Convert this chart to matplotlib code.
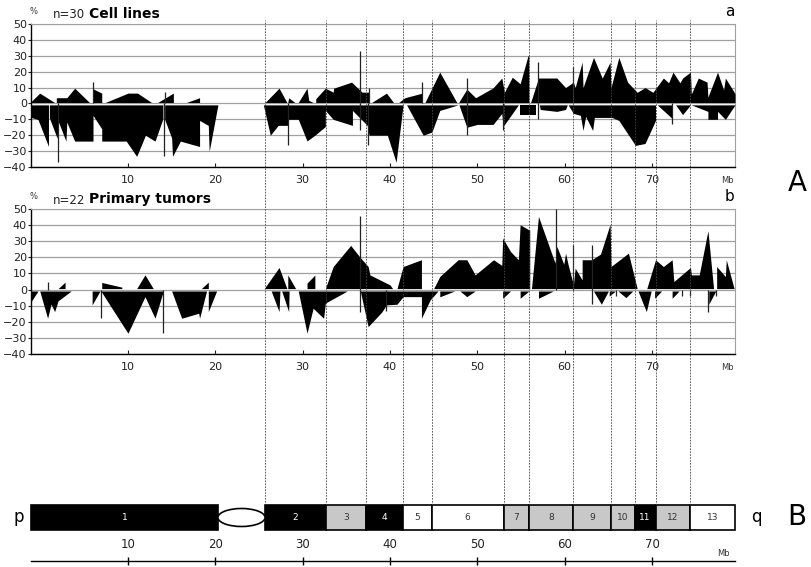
import numpy as np
import matplotlib
matplotlib.use("Agg")
import matplotlib.pyplot as plt
from matplotlib.patches import Rectangle, Ellipse

# ---- data (Mb position, % of cases) ----
cell_gain = [
    [(-1.2, 0), (-0.1, 6.5), (1.6, 0)],
    [(1.8, 3.6), (3.0, 3.6), (3.9, 9.6), (5.6, 0)],
    [(6.0, 9.2), (7.0, 6.5)],
    [(7.4, 0), (10.0, 6.5), (11.1, 6.5), (12.7, 0)],
    [(13.4, 0), (15.2, 6.5)],
    [(16.7, 0), (18.2, 3.6)],
    [(25.7, 0), (27.3, 9.6), (28.2, 0)],
    [(28.3, 0), (28.4, 3.6), (29.1, 0)],
    [(29.5, 0), (30.5, 9.6), (30.7, 1.9), (31.2, 0)],
    [(31.5, 3.0), (32.6, 9.6), (33.5, 7.1), (33.55, 9.6), (35.6, 13.4), (36.8, 7.1), (37.65, 7.1)],
    [(37.9, 0), (39.6, 6.5), (40.4, 0)],
    [(41.0, 0), (41.7, 3.6), (43.7, 6.5)],
    [(44.0, 0), (45.7, 19.7), (47.65, 0)],
    [(47.9, 1), (48.8, 9), (49.8, 3.6), (51.8, 9.8), (52.8, 16), (53.1, 7), (54.0, 16.5),
     (54.9, 12.4), (55.8, 30), (55.9, 30)],
    [(56.1, 0), (57.0, 16), (59.1, 16), (60.1, 10), (61.0, 13.4), (61.2, 10), (62.0, 26), (62.1, 10),
     (63.3, 29), (64.3, 16), (65.2, 26), (65.3, 10), (66.2, 29), (67.2, 13.4), (68.3, 7), (69.2, 10),
     (70.1, 7), (71.3, 16), (71.9, 13), (72.4, 19.7), (73.2, 13), (73.5, 16), (74.4, 19.7), (74.5, 6),
     (75.3, 16), (76.3, 13.4), (76.4, 4), (77.5, 19.7), (78.2, 8.6), (78.4, 16), (79.3, 8), (79.5, 6)],
]
cell_loss = [
    [(-1.2, -8.6), (-0.3, -10.1), (0.9, -27)],
    [(1.0, -9), (1.9, -22), (2.0, -11), (2.9, -23.7), (3.0, -11.7), (3.9, -23.7), (6.0, -23.7),
     (6.0, -7.5), (7.0, -16), (7.0, -23.7), (9.8, -23.7), (11.0, -33.3), (12.0, -20), (13.1, -23.7),
     (14.0, -9.6)],
    [(14.2, -10), (15.0, -21.6), (15.1, -33.3), (16.0, -23.7), (18.2, -27.1), (18.2, -10.7),
     (19.2, -13.8), (19.3, -30.2), (20.3, 0)],
    [(25.5, 0), (26.3, -20), (27.2, -13.8), (28.3, -13.8), (28.4, -10), (29.5, -10), (30.5, -23.6),
     (31.4, -20), (32.6, -14.5), (32.6, -4.4), (33.5, -10), (35.7, -13.8), (35.7, -4.4), (37.4, -13.8),
     (37.6, -20), (39.7, -20), (40.7, -37), (41.5, 0)],
    [(41.9, 0), (43.8, -20), (44.8, -18), (45.7, -4.4), (47.8, 0)],
    [(47.9, 0), (48.8, -15), (50.0, -13.2), (51.8, -13.2), (52.8, -6.3), (52.95, -14.5), (54.7, 0)],
    [(54.9, -7), (56.7, -7)],
    [(57.1, 0), (57.2, -3.8), (59.1, -5), (60.1, -3.8), (60.3, 0)],
    [(60.4, 0), (61.0, -6.3), (61.8, -7.5), (62.1, -17), (62.4, -8.2), (63.2, -17), (63.4, -8.8),
     (65.4, -8.8), (66.2, -10.7), (68.1, -26.4), (69.2, -25.2), (70.4, -10.7)],
    [(70.6, 0), (72.3, -9.4)],
    [(72.7, 0), (73.5, -7), (74.4, 0)],
    [(74.5, 0), (76.4, -5), (76.4, -10), (77.5, -10), (77.5, -5), (78.4, -10), (79.5, 0)],
]
cell_spikes = [(6.0, 13.4), (14.2, 7.5), (36.6, 33.3), (37.65, 9.6), (43.7, 13.4), (48.8, 16),
               (57.0, 26), (61.0, 22.8), (1.95, -37), (14.1, -33.3), (28.3, -26.4), (36.6, -17),
               (37.5, -26.4), (48.8, -20), (52.95, -17), (57.0, -9.6), (72.3, -13)]

tumor_gain = [
    [(2.0, 0), (2.8, 4.6)],
    [(7.0, 4.4), (9.3, 1.5)],
    [(11.0, 0), (11.95, 9.1), (12.9, 0)],
    [(18.4, 0), (19.2, 4.6)],
    [(25.6, 0), (27.3, 13.7), (28.2, 0)],
    [(28.3, 9.1), (29.2, 0)],
    [(30.5, 4), (31.4, 9)],
    [(32.6, 0), (33.5, 14.3), (35.5, 27.4), (36.5, 20.5), (37.5, 14.3), (37.7, 9.1), (40.0, 2.9), (40.3, 0)],
    [(40.8, 0), (41.5, 14.3), (43.6, 18.5)],
    [(45.0, 0), (45.7, 8.1), (47.8, 18.5), (48.8, 18.5), (49.75, 9.1), (51.85, 18.5), (52.8, 15),
     (52.9, 32), (53.8, 23.6), (54.7, 18.5), (54.9, 40.2), (55.9, 37.1), (56.0, 37.1)],
    [(56.2, 0), (57.0, 45.4), (58.9, 16.4), (59.1, 26.8), (59.9, 15.7), (60.1, 22.6), (60.4, 15.3),
     (61.0, 2.9), (61.2, 13.3), (62.0, 6.0), (62.0, 18.5), (63.1, 18.5), (64.1, 22.0), (65.2, 40.6),
     (65.3, 14.3), (67.3, 22.6), (68.3, 0)],
    [(69.4, 0), (70.4, 18.5), (71.3, 14.3), (72.3, 18.5), (72.5, 5), (74.4, 13.7), (74.5, 9.1),
     (75.4, 9.1), (76.4, 36.5), (77.05, 0)],
    [(77.4, 14.3), (78.4, 8.1), (78.5, 18.5), (79.4, 0)],
]
tumor_loss = [
    [(-1.2, -8.4), (-0.3, 0)],
    [(-0.1, 0), (0.8, -17.8), (1.2, -9), (1.6, -13.7), (2.0, -7), (3.5, 0)],
    [(5.9, -9.5), (6.8, 0)],
    [(6.9, 0), (10.0, -27.1), (11.95, -4.4), (13.1, -17.8), (14.05, 0)],
    [(15.0, 0), (16.15, -17.8), (18.1, -14.7), (18.2, -17.8), (19.0, 0)],
    [(19.2, -13.7), (20.15, 0)],
    [(26.4, 0), (27.3, -13.7), (27.4, 0)],
    [(27.6, 0), (28.4, -13.7), (28.45, 0)],
    [(29.5, 0), (30.5, -27.1), (31.2, -11.6), (32.4, -17.8), (32.6, -8.4), (35.1, 0)],
    [(36.6, 0), (37.5, -23), (39.05, -14), (39.6, -9.5), (40.8, -9.1), (41.5, -4.4), (43.6, -4.4),
     (43.6, -17.8), (44.6, -6.4), (45.5, 0)],
    [(45.7, -4.5), (47.4, 0)],
    [(48.0, 0), (48.8, -4.4), (49.75, 0)],
    [(52.9, -5.4), (53.8, 0)],
    [(54.9, -5.4), (55.9, 0)],
    [(57.0, -5.4), (58.7, 0)],
    [(63.3, 0), (64.2, -9.1), (65.0, 0)],
    [(65.1, -4), (65.8, 0)],
    [(66.1, 0), (67.0, -5), (67.8, 0)],
    [(68.4, 0), (69.35, -13.7), (69.9, 0)],
    [(70.3, -5.4), (71.1, 0)],
    [(72.3, -5.4), (73.1, 0)],
    [(76.5, -9), (77.3, 0)],
]
tumor_spikes = [(0.8, 4.6), (36.6, 45.4), (59.0, 50.2), (61.0, 27.8), (63.1, 27.8),
                (6.9, -17.8), (14.05, -27), (36.6, -14), (39.6, -13), (63.1, -9.1),
                (65.9, -4), (73.4, -4), (74.4, -4), (76.4, -13.7), (77.35, -4)]

band_names = [str(i) for i in range(1, 14)]
band_start = [-1.1, 25.7, 32.7, 37.3, 41.5, 44.8, 53.0, 55.9, 61.0, 65.3, 68.0, 70.4, 74.3]
band_end = [20.3, 32.7, 37.3, 41.5, 44.8, 53.0, 55.9, 61.0, 65.3, 68.0, 70.4, 74.3, 79.5]
band_stain = ['black', 'black', 'gray', 'black', 'white', 'white', 'gray', 'gray', 'gray',
              'gray', 'black', 'gray', 'white']
centromere = (20.3, 25.7)
mb_ticks = [10, 20, 30, 40, 50, 60, 70]

XMIN, XMAX = -1.1, 79.5
W, H = 811, 567


def fx(px):
    return px / W


def fy(py):
    return 1 - py / H


def profile(ax, gains, losses, spikes):
    for seg in gains:
        x, y = zip(*seg)
        ax.fill_between(x, 0.6, np.maximum(y, 0.6), color='black', lw=0, zorder=3)
    for seg in losses:
        x, y = zip(*seg)
        ax.fill_between(x, -0.9, np.minimum(y, -0.9), color='black', lw=0, zorder=3)
    for x, v in spikes:
        ax.vlines(x, 0, v, color='#222222', lw=0.9, zorder=3)
    ax.set_xlim(XMIN, XMAX)
    ax.set_ylim(-40, 50)
    ax.set_yticks(range(-40, 51, 10))
    ax.set_xticks(mb_ticks)
    ax.grid(axis='y', color='#a0a0a0', lw=0.9)
    ax.set_axisbelow(True)
    for s in ['top', 'right']:
        ax.spines[s].set_color('#a0a0a0')
    for s in ['left', 'bottom']:
        ax.spines[s].set_color('black')
        ax.spines[s].set_linewidth(1.0)
    ax.tick_params(axis='y', direction='out', length=2, labelsize=8, colors='#222222', pad=1)
    ax.tick_params(axis='x', direction='in', length=3, labelsize=8, colors='#222222', pad=6)


fig = plt.figure(figsize=(W / 100, H / 100), dpi=100)

ax1 = fig.add_axes([fx(31), fy(167), fx(704), 143 / H])
profile(ax1, cell_gain, cell_loss, cell_spikes)
ax2 = fig.add_axes([fx(31), fy(354), fx(704), 145 / H])
profile(ax2, tumor_gain, tumor_loss, tumor_spikes)

for top, n, title, letter in [(14, 'n=30', 'Cell lines', 'a'), (199, 'n=22', 'Primary tumors', 'b')]:
    fig.text(fx(29), fy(top - 2), '%', fontsize=6, ha='left', va='center', color='#333333')
    fig.text(fx(53), fy(top + 1), n, fontsize=8.5, ha='left', va='center', color='#222222')
    fig.text(fx(89), fy(top), title, fontsize=10, fontweight='bold', ha='left', va='center')
    fig.text(fx(734), fy(top - 2), letter, fontsize=11, ha='right', va='center')
fig.text(fx(721), fy(181), 'Mb', fontsize=6, ha='left', va='center', color='#333333')
fig.text(fx(721), fy(367), 'Mb', fontsize=6, ha='left', va='center', color='#333333')
fig.text(fx(797), fy(183), 'A', fontsize=20, ha='center', va='center')
fig.text(fx(797), fy(517), 'B', fontsize=20, ha='center', va='center')
fig.text(fx(19), fy(517), 'p', fontsize=12, ha='center', va='center')
fig.text(fx(756), fy(517), 'q', fontsize=12, ha='center', va='center')

# ideogram and ruler (y in pixels below 500)
ax3 = fig.add_axes([fx(31), 0, fx(704), 67 / H])
ax3.set_xlim(XMIN, XMAX)
ax3.set_ylim(67, 0)
ax3.axis('off')
fills = {'black': 'black', 'gray': '#c8c8c8', 'white': 'white'}
for name, s, e, st in zip(band_names, band_start, band_end, band_stain):
    ax3.add_patch(Rectangle((s, 5), e - s, 25, facecolor=fills[st], edgecolor='black', lw=1.2,
                            clip_on=False))
    ax3.text((s + e) / 2, 17.5, name, fontsize=6.5, ha='center', va='center',
             color='white' if st == 'black' else '#333333')
ax3.add_patch(Ellipse(((centromere[0] + centromere[1]) / 2, 17.5), centromere[1] - centromere[0], 18,
                      facecolor='white', edgecolor='black', lw=1.2, clip_on=False))
ax3.plot([XMIN, XMAX], [61, 61], color='black', lw=1, clip_on=False)
ax3.vlines(mb_ticks, 57, 65, color='black', lw=1)
for t in mb_ticks:
    ax3.text(t, 45, str(t), fontsize=8.5, ha='center', va='center', color='#222222')
ax3.text(78.2, 53, 'Mb', fontsize=6, ha='center', va='center', color='#333333')

# dashed band boundaries across the profiles
ax4 = fig.add_axes([fx(31), fy(505), fx(704), 485 / H])
ax4.set_xlim(XMIN, XMAX)
ax4.set_ylim(0, 1)
ax4.axis('off')
ax4.vlines(band_start[1:], 0, 1, color='#444444', lw=0.6, linestyles=(0, (2, 1.5)))

fig.savefig('out.png', dpi=100)
